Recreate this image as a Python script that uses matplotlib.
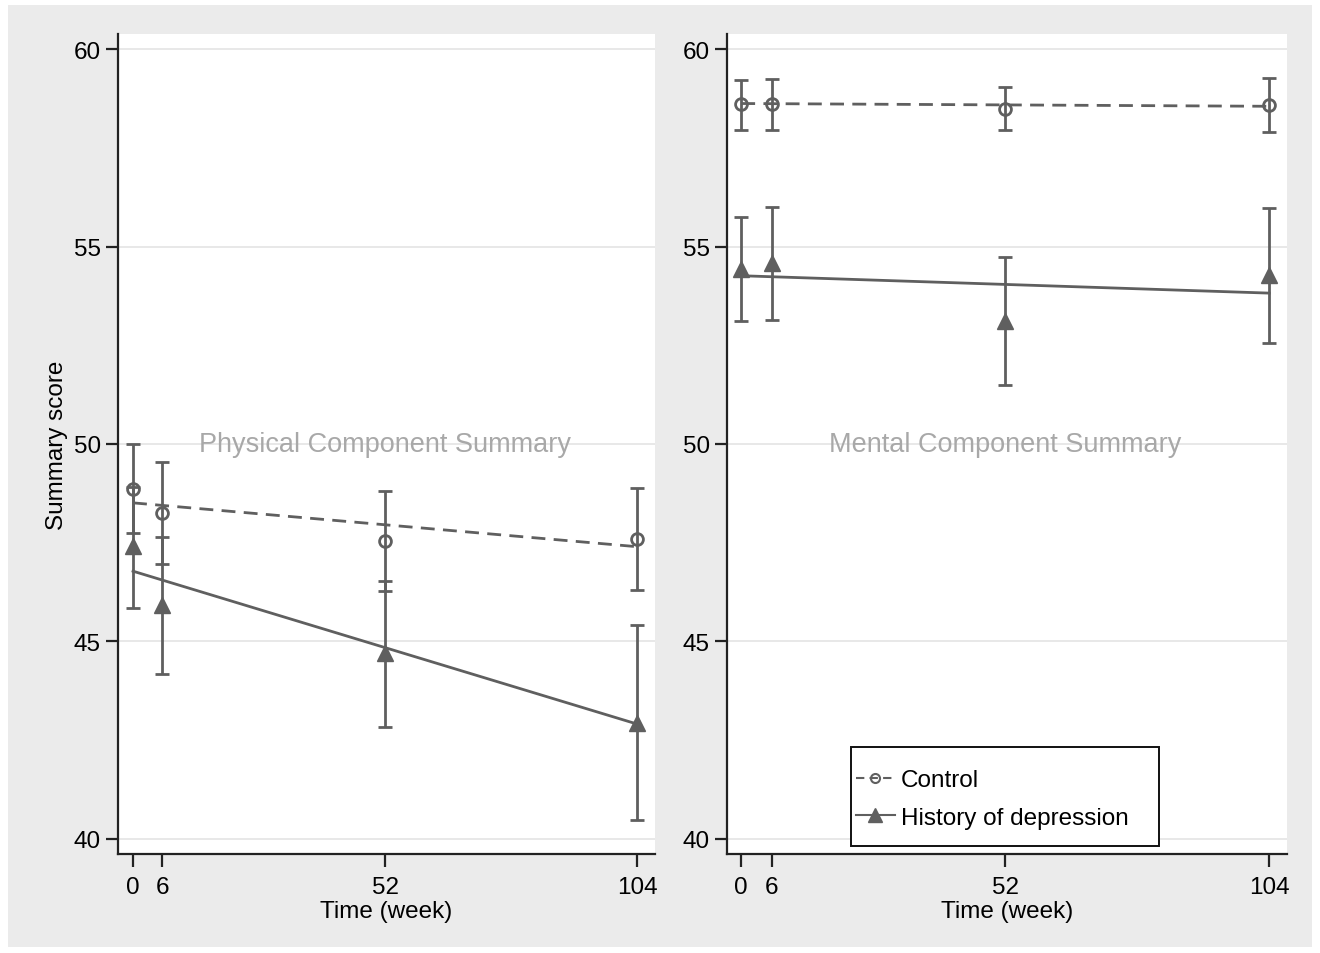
import numpy as np
import matplotlib.pyplot as plt
from matplotlib.patches import Rectangle
from matplotlib.lines import Line2D

plt.rcParams['font.family'] = ['Liberation Sans', 'DejaVu Sans']

## Data
weeks = [0, 6, 52, 104]

# Physical Component Summary
pcs_ctrl = [48.86, 48.26, 47.54, 47.60]
pcs_ctrl_lo = [47.75, 46.97, 46.28, 46.31]
pcs_ctrl_hi = [50.00, 49.55, 48.80, 48.89]
pcs_dep = [47.42, 45.92, 44.70, 42.93]
pcs_dep_lo = [45.86, 44.17, 42.83, 40.48]
pcs_dep_hi = [48.91, 47.65, 46.53, 45.41]
pcs_ctrl_fit = [48.51, 47.40]
pcs_dep_fit = [46.78, 42.91]

# Mental Component Summary
mcs_ctrl = [58.61, 58.61, 58.48, 58.57]
mcs_ctrl_lo = [57.96, 57.96, 57.95, 57.89]
mcs_ctrl_hi = [59.22, 59.24, 59.03, 59.26]
mcs_dep = [54.43, 54.58, 53.12, 54.29]
mcs_dep_lo = [53.12, 53.14, 51.49, 52.56]
mcs_dep_hi = [55.74, 56.01, 54.73, 55.97]
mcs_ctrl_fit = [58.62, 58.55]
mcs_dep_fit = [54.26, 53.82]

fit_x = [0, 104]
titles = ["Physical Component Summary", "Mental Component Summary"]

grey = "#5f5f5f"
bg = "#ebebeb"
fs = 17.5

fig = plt.figure(figsize=(13.2, 9.54), dpi=100, facecolor="white")
fig.patches.append(Rectangle((8 / 1320, 6 / 954), 1304 / 1320, 942 / 954,
                             transform=fig.transFigure, facecolor=bg,
                             edgecolor="none", zorder=-10))

ax1 = fig.add_axes([118 / 1320, 1 - 855 / 954, 537 / 1320, 820 / 954])
ax2 = fig.add_axes([727 / 1320, 1 - 855 / 954, 560 / 1320, 820 / 954])


def draw_panel(ax, ctrl, clo, chi, dep, dlo, dhi, cfit, dfit, title, xlim):
    ax.set_facecolor("white")
    ax.set_xlim(*xlim)
    ax.set_ylim(39.62, 60.38)
    for y in [40, 45, 50, 55, 60]:
        ax.axhline(y, color="#e4e4e4", lw=1.2, zorder=0)

    c = np.array(ctrl)
    d = np.array(dep)
    ax.errorbar(weeks, c, yerr=[c - np.array(clo), np.array(chi) - c],
                fmt="none", ecolor=grey, elinewidth=2, capsize=5, capthick=2, zorder=3)
    ax.errorbar(weeks, d, yerr=[d - np.array(dlo), np.array(dhi) - d],
                fmt="none", ecolor=grey, elinewidth=2, capsize=5, capthick=2, zorder=3)
    ax.plot(fit_x, cfit, color=grey, lw=2, dashes=(5, 3), zorder=2)
    ax.plot(fit_x, dfit, color=grey, lw=2, zorder=2)
    ax.plot(weeks, ctrl, ls="none", marker="o", ms=8.5, mfc="none", mec=grey, mew=2, zorder=4)
    ax.plot(weeks, dep, ls="none", marker="^", ms=11, mfc=grey, mec=grey, zorder=4)

    ax.text(52, 50, title, ha="center", va="center", fontsize=19.5, color="#a8a8a8", zorder=1)

    for s in ["top", "right"]:
        ax.spines[s].set_visible(False)
    for s in ["left", "bottom"]:
        ax.spines[s].set_linewidth(1.6)
        ax.spines[s].set_color("#222222")
    ax.set_xticks(weeks)
    ax.set_yticks([40, 45, 50, 55, 60])
    ax.tick_params(axis="both", labelsize=fs, length=9, width=1.6, color="#222222")
    ax.tick_params(axis="x", pad=7)
    ax.set_xlabel("Time (week)", fontsize=fs, labelpad=1)


draw_panel(ax1, pcs_ctrl, pcs_ctrl_lo, pcs_ctrl_hi, pcs_dep, pcs_dep_lo, pcs_dep_hi,
           pcs_ctrl_fit, pcs_dep_fit, titles[0], (-3.1, 107.7))
draw_panel(ax2, mcs_ctrl, mcs_ctrl_lo, mcs_ctrl_hi, mcs_dep, mcs_dep_lo, mcs_dep_hi,
           mcs_ctrl_fit, mcs_dep_fit, titles[1], (-2.8, 107.5))
ax1.set_ylabel("Summary score", fontsize=fs, labelpad=4)

# legend frame drawn separately so its box matches the original
ax2.add_patch(Rectangle((851 / 1320, 1 - 847 / 954), 308 / 1320, 99 / 954,
                        transform=fig.transFigure, facecolor="white", clip_on=False,
                        edgecolor="#111111", lw=1.4, zorder=5))
handles = [
    Line2D([], [], color=grey, lw=1.5, ls=(0, (4, 2.5)), marker="o", ms=6.5, mfc="none", mec=grey, mew=1.5),
    Line2D([], [], color=grey, lw=1.5, marker="^", ms=10, mfc=grey, mec=grey),
]
leg = ax2.legend(handles, ["Control", "History of depression"], loc="center left",
                 bbox_to_anchor=(856 / 1320, 1 - 800 / 954),
                 bbox_transform=fig.transFigure, fontsize=fs,
                 frameon=False, handlelength=1.6,
                 handletextpad=0.25, borderpad=0, labelspacing=0.65, borderaxespad=0)
leg.set_zorder(6)

fig.savefig("out.png", dpi=100, facecolor=fig.get_facecolor())
